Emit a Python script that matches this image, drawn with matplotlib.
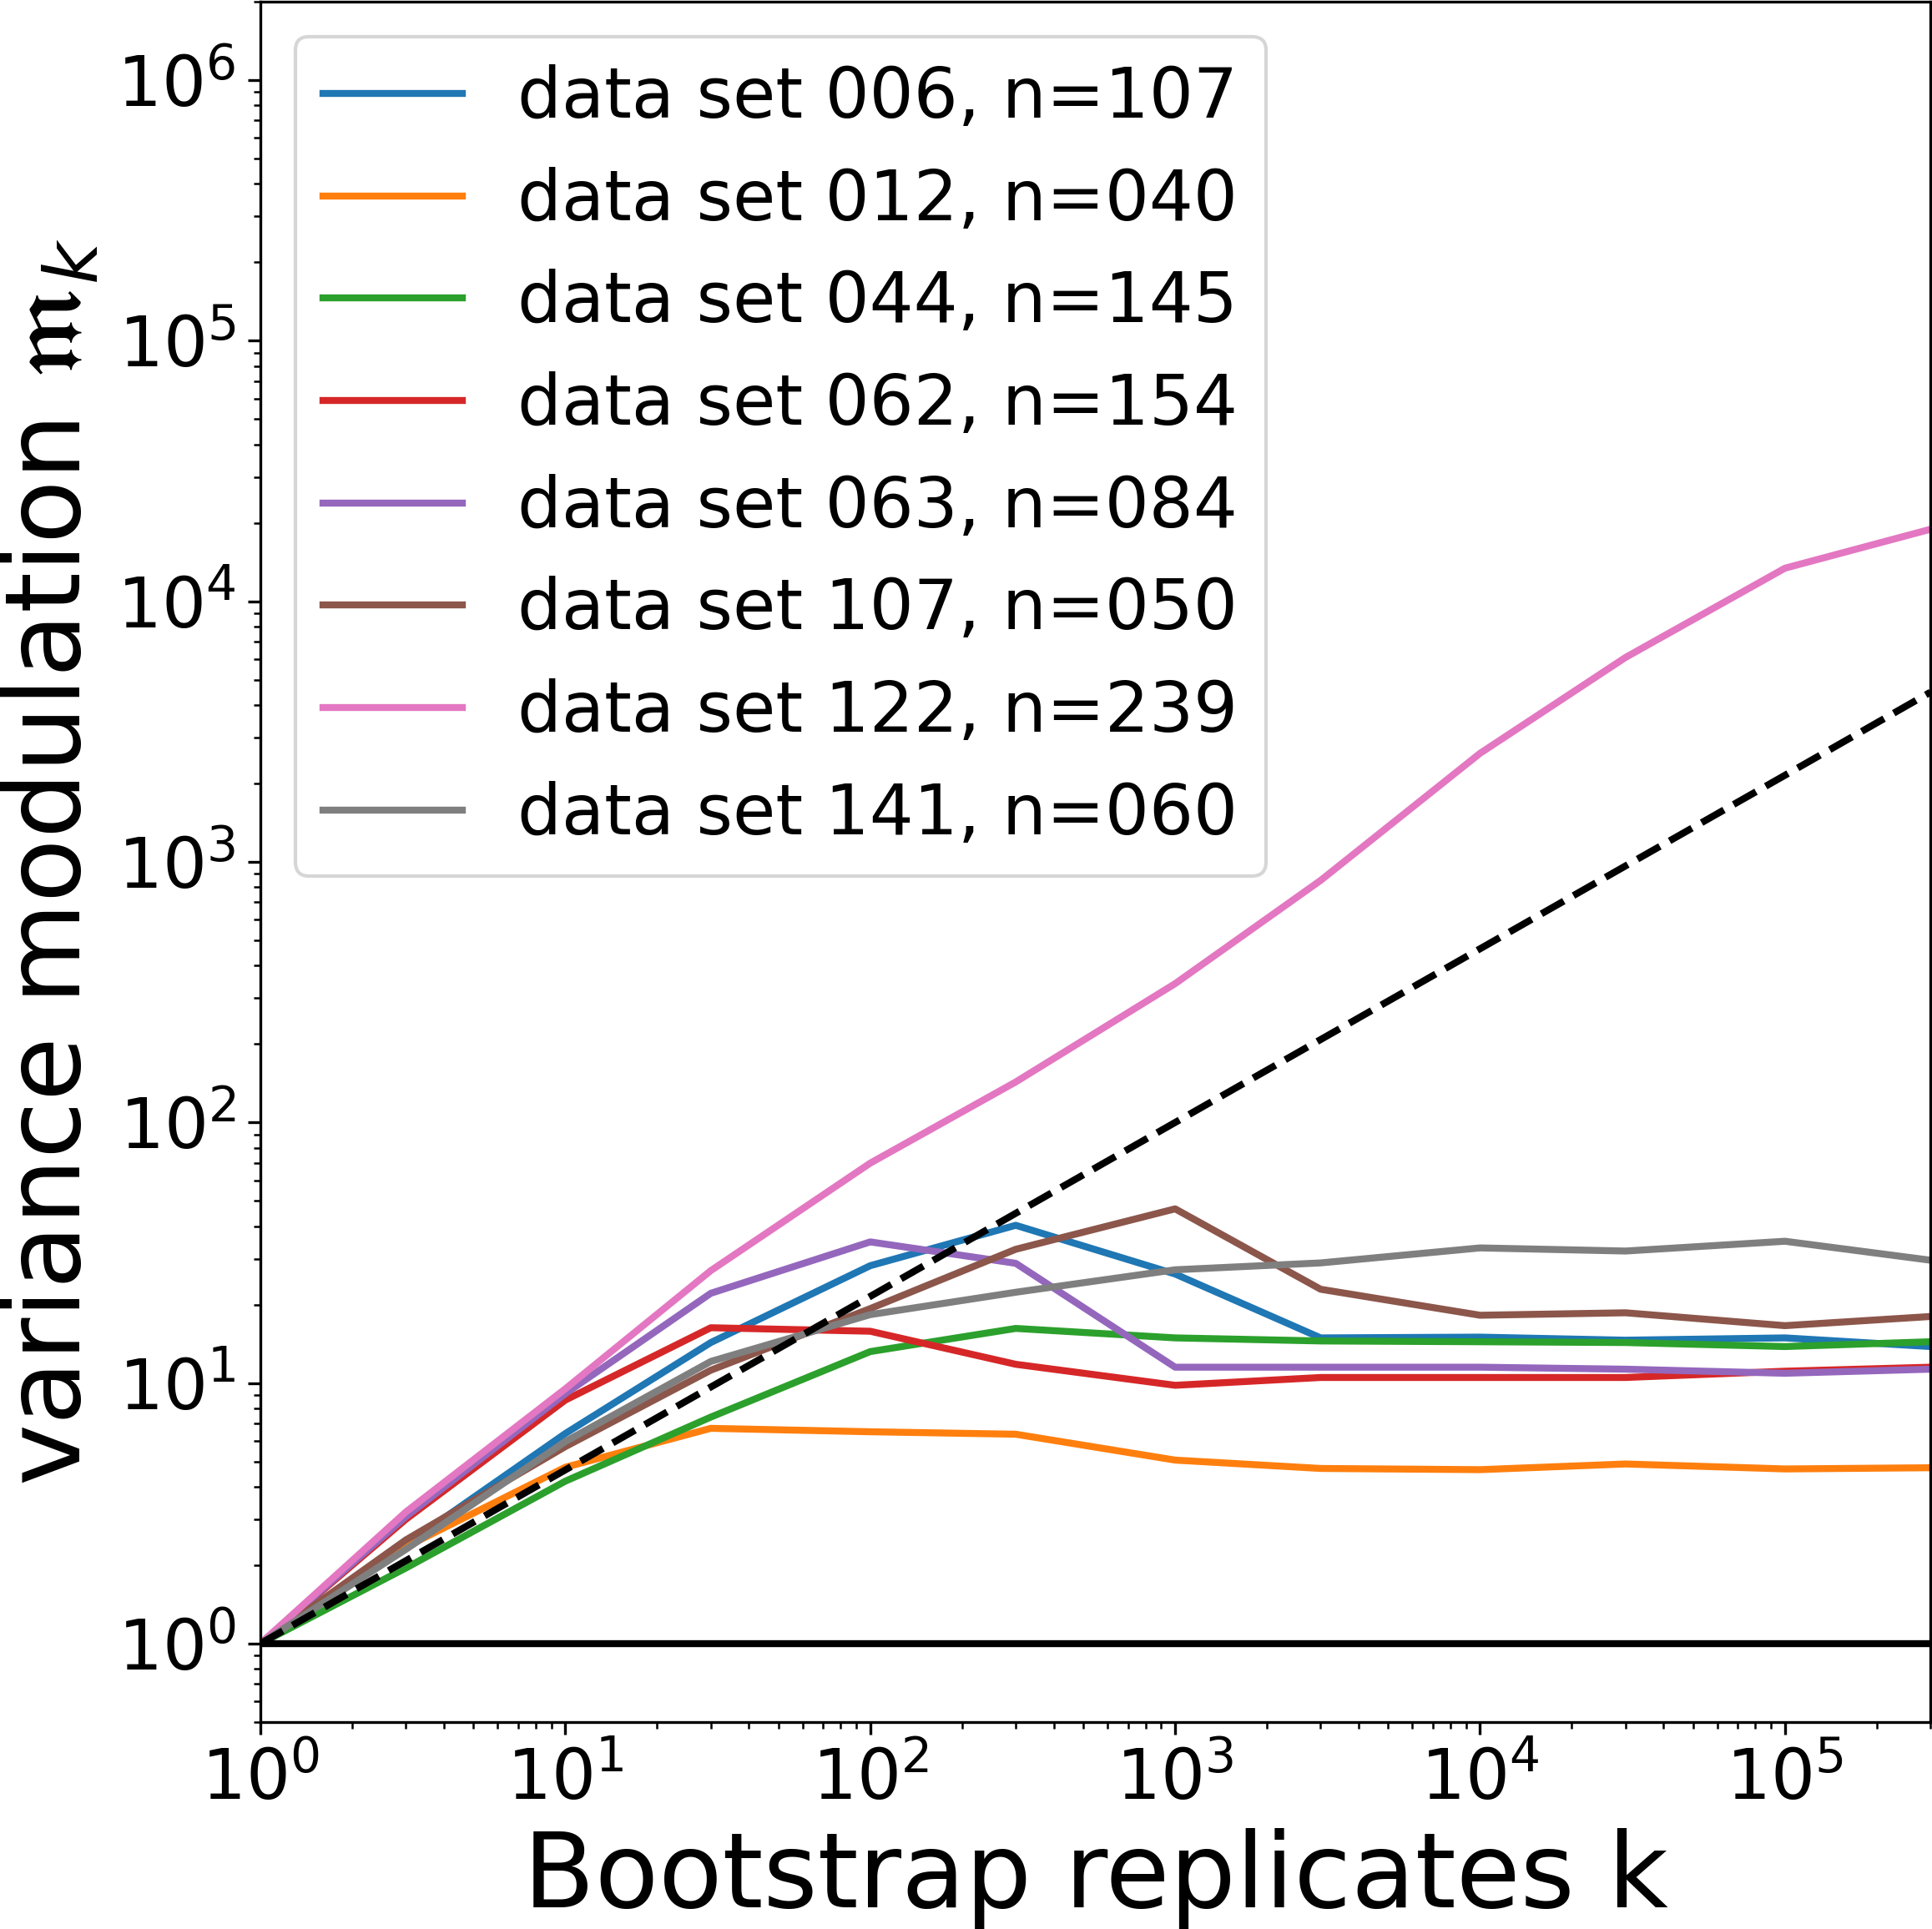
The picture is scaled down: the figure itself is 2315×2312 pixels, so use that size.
import numpy as np
import matplotlib
matplotlib.use("Agg")
import matplotlib.pyplot as plt

# bootstrap replicates
k = [1, 3, 10, 30, 100, 300, 1000, 3000, 10000, 30000, 100000, 300000]

# variance modulation per data set
ds006 = [1, 2.4, 6.4, 14.3, 28.2, 40.3, 26.2, 14.9, 15.0, 14.6, 14.9, 13.8]
ds012 = [1, 2.35, 4.75, 6.7, 6.5, 6.36, 5.06, 4.7, 4.65, 4.89, 4.68, 4.73]
ds044 = [1, 1.95, 4.2, 7.4, 13.2, 16.2, 14.9, 14.5, 14.4, 14.3, 13.8, 14.4]
ds062 = [1, 3.0, 8.6, 16.3, 15.8, 11.8, 9.8, 10.5, 10.5, 10.5, 11.1, 11.5]
ds063 = [1, 3.07, 9.1, 22.1, 34.8, 28.8, 11.5, 11.5, 11.5, 11.3, 10.9, 11.3]
ds107 = [1, 2.5, 5.7, 11.2, 19.3, 32.6, 46.6, 22.9, 18.2, 18.6, 16.6, 18.0]
ds122 = [1, 3.2, 9.5, 27, 69.8, 143, 341, 849, 2610, 6090, 13400, 18900]
ds141 = [1, 2.3, 5.96, 12.1, 18.3, 22.3, 27.2, 28.9, 33.0, 32.1, 35.0, 29.6]

# dashed reference line
ref = [1, 2.08, 4.64, 9.65, 21.5, 44.8, 100, 208, 464, 965, 2150, 4480]

labels = ["data set 006, n=107", "data set 012, n=040", "data set 044, n=145",
          "data set 062, n=154", "data set 063, n=084", "data set 107, n=050",
          "data set 122, n=239", "data set 141, n=060"]
series = [ds006, ds012, ds044, ds062, ds063, ds107, ds122, ds141]

fig = plt.figure(figsize=(2315/300, 2312/300), dpi=300)
ax = fig.add_axes([0.1348, 0.1073, 0.8644, 0.8918])

for s, lab in zip(series, labels):
    ax.plot(k, s, lw=2, label=lab)
ax.plot(k, ref, "k--", lw=2)
ax.axhline(1, color="k", lw=2)

ax.set_xscale("log")
ax.set_yscale("log")
ax.set_xlim(1, 3e5)
ax.set_ylim(0.5, 2e6)

ax.tick_params(labelsize=20)
ax.set_xlabel("Bootstrap replicates k", fontsize=30)
ax.set_ylabel(r"variance modulation $\mathfrak{m}_k$", fontsize=30)
ax.legend(loc="upper left", fontsize=20)

fig.savefig("out.png", dpi=300)
